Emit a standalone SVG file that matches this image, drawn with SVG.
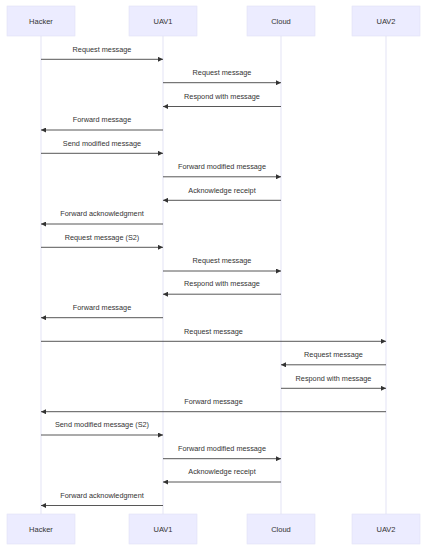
<svg xmlns="http://www.w3.org/2000/svg" width="426" height="550" viewBox="0 0 426 550">
<defs>
<style>
.actor rect{fill:#ECECFF;stroke:#e2e2f6;stroke-width:0.6}
.actor text{font-family:"Liberation Sans",Arial,sans-serif;font-size:7.5px;fill:#333;text-anchor:middle;dominant-baseline:central}
.life{stroke:#dcdcf2;stroke-width:0.8}
.msg line{stroke:#444;stroke-width:0.9}
.msg text{font-family:"Liberation Sans",Arial,sans-serif;font-size:7.3px;fill:#333;text-anchor:middle}
</style>
<marker id="ah" viewBox="0 0 10 10" refX="10" refY="5" markerWidth="5" markerHeight="5" markerUnits="userSpaceOnUse" orient="auto">
<path d="M0,0 L10,5 L0,10 z" fill="#333"/>
</marker>
</defs>
<rect width="426" height="550" fill="#fff"/>
<g id="lifelines">
<line class="life" x1="41" y1="36" x2="41" y2="514"/>
<line class="life" x1="163" y1="36" x2="163" y2="514"/>
<line class="life" x1="281" y1="36" x2="281" y2="514"/>
<line class="life" x1="386" y1="36" x2="386" y2="514"/>
</g>
<g id="actor-hacker-top" class="actor"><rect x="7" y="6" width="68" height="30"/><text x="41" y="21">Hacker</text></g>
<g id="actor-uav1-top" class="actor"><rect x="129" y="6" width="68" height="30"/><text x="163" y="21">UAV1</text></g>
<g id="actor-cloud-top" class="actor"><rect x="247" y="6" width="68" height="30"/><text x="281" y="21">Cloud</text></g>
<g id="actor-uav2-top" class="actor"><rect x="352" y="6" width="68" height="30"/><text x="386" y="21">UAV2</text></g>
<g id="actor-hacker-bottom" class="actor"><rect x="7" y="514" width="68" height="30"/><text x="41" y="529">Hacker</text></g>
<g id="actor-uav1-bottom" class="actor"><rect x="129" y="514" width="68" height="30"/><text x="163" y="529">UAV1</text></g>
<g id="actor-cloud-bottom" class="actor"><rect x="247" y="514" width="68" height="30"/><text x="281" y="529">Cloud</text></g>
<g id="actor-uav2-bottom" class="actor"><rect x="352" y="514" width="68" height="30"/><text x="386" y="529">UAV2</text></g>
<g id="connectors" class="msg">
<line x1="41" y1="59.3" x2="163" y2="59.3" marker-end="url(#ah)"/><text x="102" y="51.5">Request message</text>
<line x1="163" y1="82.7" x2="281" y2="82.7" marker-end="url(#ah)"/><text x="222" y="75">Request message</text>
<line x1="281" y1="106.5" x2="163" y2="106.5" marker-end="url(#ah)"/><text x="222" y="98.7">Respond with message</text>
<line x1="163" y1="130" x2="41" y2="130" marker-end="url(#ah)"/><text x="102" y="122.2">Forward message</text>
<line x1="41" y1="153.3" x2="163" y2="153.3" marker-end="url(#ah)"/><text x="102" y="145.5">Send modified message</text>
<line x1="163" y1="176.8" x2="281" y2="176.8" marker-end="url(#ah)"/><text x="222" y="169">Forward modified message</text>
<line x1="281" y1="200.3" x2="163" y2="200.3" marker-end="url(#ah)"/><text x="222" y="192.5">Acknowledge receipt</text>
<line x1="163" y1="224" x2="41" y2="224" marker-end="url(#ah)"/><text x="102" y="216.2">Forward acknowledgment</text>
<line x1="41" y1="247.3" x2="163" y2="247.3" marker-end="url(#ah)"/><text x="102" y="239.5">Request message (S2)</text>
<line x1="163" y1="271" x2="281" y2="271" marker-end="url(#ah)"/><text x="222" y="263.2">Request message</text>
<line x1="281" y1="294.2" x2="163" y2="294.2" marker-end="url(#ah)"/><text x="222" y="286.4">Respond with message</text>
<line x1="163" y1="317.7" x2="41" y2="317.7" marker-end="url(#ah)"/><text x="102" y="309.9">Forward message</text>
<line x1="41" y1="341.3" x2="386" y2="341.3" marker-end="url(#ah)"/><text x="213.5" y="333.5">Request message</text>
<line x1="386" y1="364.8" x2="281" y2="364.8" marker-end="url(#ah)"/><text x="333.5" y="357">Request message</text>
<line x1="281" y1="388.3" x2="386" y2="388.3" marker-end="url(#ah)"/><text x="333.5" y="380.5">Respond with message</text>
<line x1="386" y1="411.7" x2="41" y2="411.7" marker-end="url(#ah)"/><text x="213.5" y="403.9">Forward message</text>
<line x1="41" y1="435" x2="163" y2="435" marker-end="url(#ah)"/><text x="102" y="427.2">Send modified message (S2)</text>
<line x1="163" y1="458.7" x2="281" y2="458.7" marker-end="url(#ah)"/><text x="222" y="450.9">Forward modified message</text>
<line x1="281" y1="482" x2="163" y2="482" marker-end="url(#ah)"/><text x="222" y="474.2">Acknowledge receipt</text>
<line x1="163" y1="505.5" x2="41" y2="505.5" marker-end="url(#ah)"/><text x="102" y="497.7">Forward acknowledgment</text>
</g>
</svg>
